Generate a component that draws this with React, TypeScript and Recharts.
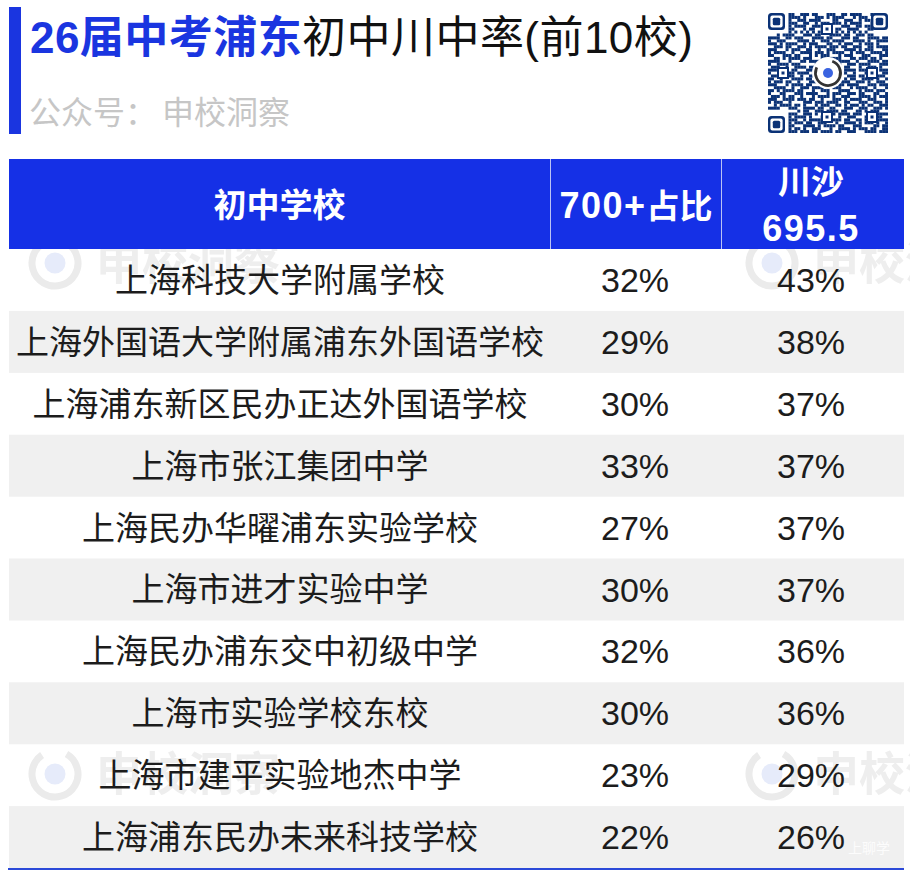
import { Bar, BarChart, LabelList, XAxis, YAxis } from 'recharts';

const schools = [
  '上海科技大学附属学校',
  '上海外国语大学附属浦东外国语学校',
  '上海浦东新区民办正达外国语学校',
  '上海市张江集团中学',
  '上海民办华曜浦东实验学校',
  '上海市进才实验中学',
  '上海民办浦东交中初级中学',
  '上海市实验学校东校',
  '上海市建平实验地杰中学',
  '上海浦东民办未来科技学校',
];
const share700 = [32, 29, 30, 33, 27, 30, 32, 30, 23, 22];
const shareChuansha = [43, 38, 37, 37, 37, 37, 36, 36, 29, 26];

const rows = schools.map((school, i) => ({
  school,
  share700: share700[i],
  chuansha: shareChuansha[i],
}));

// hand drawn texture of the code, finder corners are painted over it
const qrRows = [
  '.......##..###.##...###..##.####...#.....',
  '.......####.#...###.#.####...#.###.......',
  '.......#..###.####....##..###..#.##......',
  '.......###..##..#.###.###.#.####...#.....',
  '.......#.####..###.##....###..##.###.....',
  '.......##...#.##..####.##..####...##.....',
  '.......#.#.#.#.#.#.#.#.#.#.#.#.#.#.......',
  '...#.####...###.##...####.##..###.##.....',
  '####..##.###...####.##...###.##...####.##',
  '#..###....####.#..###.####...####.#..####',
  '###.#.####..#.###...##..#.###..#.###.#...',
  '..###.##..###.#.####.###.##..###..##.####',
  '###...#.###..##..#..###...####.#.###...##',
  '#.####..#..####.###.#.####..#.###..####.#',
  '##...###.##...#.#.###...#.###...###...###',
  '..##.#.####.###...##.####...##.###.##.#..',
  '####...#...##.####.#..#.####..#...####.##',
  '#..####.###.....##.###.##..###.####...###',
  '.###..#..####.##......###.##...#..###.#..',
  '###.###.##...###..#...#...####.###.##.###',
  '#...#..##.####.#..##.....##..#...###...##',
  '.####.###..#..###..........###.##...####.',
  '##..#...####.##.#.#.......#.##..####.#..#',
  '#.###.##..#...###.##.....###..###.#..###.',
  '###...#.####.##...###.#.##.####...###.###',
  '..####..#..###.####.#.###...#.####..#...#',
  '##.#.####.##...#..###...####...#.###.###.',
  '#...##...###.####...#.###..###.##...##..#',
  '.###.#.##..#...#.####.#..###...####.#.###',
  '###..####.###.##..#...###.#.####..###...#',
  '#.###..#....###.###.####..##...###..###.#',
  '..#.####.##.#...#.###..##.#.###.#.##..###',
  '####...###..####.##..##...###..###..###.#',
  '..........#.##..###.####.##...##.#.###...',
  '.......###..###.#.....#.####.###.....####',
  '.......#.####.#...####..#..###...###.##..',
  '.......###..#.####.#.####.##..##.###.####',
  '.......#.###.##..###...#..####.#.###.#..#',
  '.......##...####.#.####.##...###....##.##',
  '.......#.##.#..###...#..####.#.###.##..##',
  '.......###.###.##.####.##..###...####.###',
];
const qrAlignments = [
  [15, 60],
  [59, 16],
  [104, 60],
  [59, 104],
  [104, 104],
];

const CJK = '"Liberation Sans", "Noto Sans CJK SC", sans-serif';
const INK = '#1c1c1c';
const QR_BLUE = '#0b3276';
const HEADER_BLUE = '#1530e6';
const TABLE_LEFT = 9;
const TABLE_WIDTH = 895;
const COL_SCHOOL = 280;
const COL_700 = 635;
const COL_CHUANSHA = 811;

function Finder({ x, y, size }: { x: number; y: number; size: number }) {
  return (
    <g>
      <rect x={x} y={y} width={size} height={size} rx={3.5} fill={QR_BLUE} />
      <rect x={x + 2.4} y={y + 2.4} width={size - 4.8} height={size - 4.8} rx={2} fill="#fff" />
      <rect x={x + 4.8} y={y + 4.8} width={size - 9.6} height={size - 9.6} rx={1.5} fill={QR_BLUE} />
    </g>
  );
}

function QrCode() {
  const m = 120 / qrRows.length;
  return (
    <svg
      width={120}
      height={120}
      viewBox="0 0 120 120"
      style={{ position: 'absolute', left: 768, top: 13, filter: 'blur(0.5px)' }}
    >
      {qrRows.map((row, r) =>
        row.split('').map((c, k) =>
          c === '#' ? (
            <rect key={`${r}-${k}`} x={k * m} y={r * m} width={m + 0.1} height={m + 0.1} fill={QR_BLUE} />
          ) : null,
        ),
      )}
      {qrAlignments.map(([cx, cy]) => (
        <g key={`${cx}-${cy}`}>
          <rect x={cx - 6} y={cy - 6} width={12} height={12} fill={QR_BLUE} />
          <rect x={cx - 4} y={cy - 4} width={8} height={8} fill="#fff" />
          <rect x={cx - 1.5} y={cy - 1.5} width={3} height={3} fill={QR_BLUE} />
        </g>
      ))}
      <Finder x={0} y={0} size={17} />
      <Finder x={103} y={0} size={17} />
      <Finder x={0} y={103} size={17} />
      <circle cx={60} cy={60} r={16} fill="#fff" />
      <circle cx={60} cy={60} r={12.5} fill="none" stroke="#333" strokeWidth={2.8} strokeDasharray="60 19" transform="rotate(-70 60 60)" />
      <circle cx={60} cy={60} r={5} fill="#3a63e0" />
    </svg>
  );
}

function Watermark({ x, y }: { x: number; y: number }) {
  return (
    <svg
      width={290}
      height={60}
      viewBox="0 0 290 60"
      style={{ position: 'absolute', left: x, top: y, filter: 'blur(0.6px)' }}
    >
      <circle cx={29} cy={28} r={23} fill="none" stroke="#ebebeb" strokeWidth={7} strokeDasharray="118 27" transform="rotate(-60 29 28)" />
      <circle cx={29} cy={28} r={10.5} fill="#e6ebfa" />
      <text x={70} y={44} fontFamily={CJK} fontWeight={700} fontSize={46} fill="#eeeeee">
        申校洞察
      </text>
    </svg>
  );
}

const headerCell = (left: number, width: number): React.CSSProperties => ({
  position: 'absolute',
  left,
  top: 2,
  width,
  height: 90,
  display: 'flex',
  flexDirection: 'column',
  alignItems: 'center',
  justifyContent: 'center',
  color: '#fff',
  fontWeight: 700,
  fontSize: 33,
  lineHeight: '46px',
  whiteSpace: 'nowrap',
});

const headerLatin: React.CSSProperties = { fontSize: 36, letterSpacing: 1.5 };

function SchoolTick({ y, payload }: any) {
  return (
    <text x={COL_SCHOOL} y={y} dy={12} textAnchor="middle" fontFamily={CJK} fontSize={33} fill={INK}>
      {payload.value}
    </text>
  );
}

const valueLabel = (cx: number) => (props: any) => {
  const { y, height, value } = props;
  return (
    <text x={cx} y={y + height / 2} dy={12} textAnchor="middle" fontFamily={CJK} fontSize={34} fill={INK}>
      {value}%
    </text>
  );
};

function rowBackground(props: any) {
  const { x, y, width, height, index } = props;
  return (
    <rect
      key={index}
      x={x}
      y={y}
      width={width}
      height={height}
      fill={index % 2 === 1 ? '#f0f0f0' : 'transparent'}
    />
  );
}

export default function App() {
  return (
    <div
      style={{
        position: 'absolute',
        left: 0,
        top: 0,
        width: 910,
        height: 878,
        overflow: 'hidden',
        background: '#fff',
        fontFamily: CJK,
      }}
    >
      <div style={{ position: 'absolute', left: 9, top: 7, width: 12, height: 127, background: '#1a35e0' }} />
      <div style={{ position: 'absolute', left: 30, top: 7, fontSize: 44, lineHeight: '62px', letterSpacing: 0.45, whiteSpace: 'nowrap', color: '#111' }}>
        <span style={{ color: '#1a35e0', fontWeight: 700 }}>26届中考浦东</span>初中川中率(前10校)
      </div>
      <div style={{ position: 'absolute', left: 29, top: 90, fontSize: 32, lineHeight: '46px', whiteSpace: 'nowrap', color: '#c6c6c6' }}>
        公众号：<span style={{ marginLeft: 5 }}>申校洞察</span>
      </div>
      <QrCode />

      <Watermark x={26} y={235} />
      <Watermark x={743} y={235} />
      <Watermark x={26} y={746} />
      <Watermark x={743} y={746} />

      <BarChart
        width={910}
        height={878}
        layout="vertical"
        data={rows}
        barCategoryGap={0}
        barGap={0}
        margin={{ top: 249, right: 6, bottom: 10, left: TABLE_LEFT - 1 }}
        style={{ position: 'absolute', left: 0, top: 0 }}
      >
        <XAxis type="number" domain={[0, 100]} hide />
        <YAxis
          type="category"
          dataKey="school"
          width={1}
          interval={0}
          axisLine={false}
          tickLine={false}
          tick={SchoolTick}
        />
        <Bar
          dataKey="share700"
          stackId="row"
          fill="none"
          isAnimationActive={false}
          background={rowBackground}
        >
          <LabelList dataKey="share700" content={valueLabel(COL_700)} />
        </Bar>
        <Bar dataKey="chuansha" stackId="row" fill="none" isAnimationActive={false}>
          <LabelList dataKey="chuansha" content={valueLabel(COL_CHUANSHA)} />
        </Bar>
      </BarChart>

      <div style={{ position: 'absolute', left: TABLE_LEFT, top: 159, width: TABLE_WIDTH, height: 90, background: HEADER_BLUE }}>
        <div style={headerCell(0, 541)}>初中学校</div>
        <div style={headerCell(541, 172)}>
          <span>
            <span style={headerLatin}>700+</span>占比
          </span>
        </div>
        <div style={headerCell(713, 178)}>
          <span>川沙</span>
          <span style={headerLatin}>695.5</span>
        </div>
        <div style={{ position: 'absolute', left: 541, top: 0, width: 1, height: 90, background: '#b9c2f5' }} />
        <div style={{ position: 'absolute', left: 712, top: 0, width: 1, height: 90, background: '#b9c2f5' }} />
      </div>
      <div style={{ position: 'absolute', left: 8, top: 868, width: 896, height: 2, background: '#2b49d8' }} />
      <div style={{ position: 'absolute', left: 848, top: 838, fontSize: 14, lineHeight: '20px', color: 'rgba(255,255,255,0.85)' }}>
        上聊学
      </div>
    </div>
  );
}
